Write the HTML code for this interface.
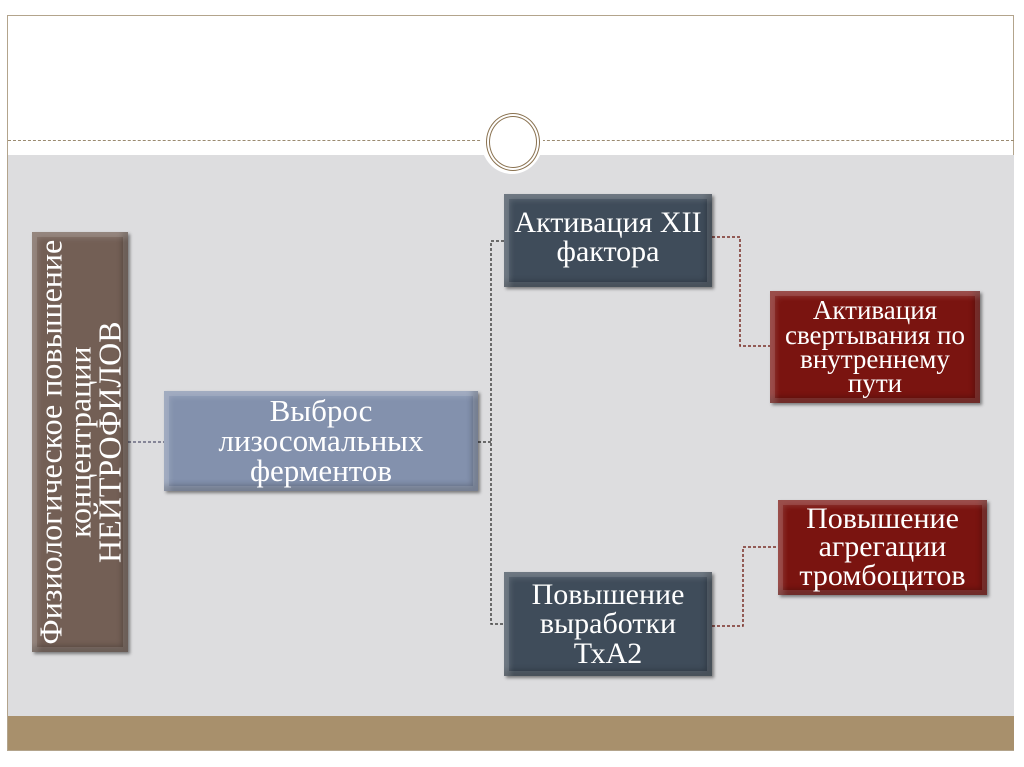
<!DOCTYPE html>
<html><head><meta charset="utf-8"><style>
body{margin:0;width:1024px;height:767px;background:#fff;position:relative;overflow:hidden;font-family:"Liberation Serif",serif}
.a{position:absolute}
.box{position:absolute;display:flex;align-items:center;justify-content:center;text-align:center;color:#fff;box-sizing:border-box;box-shadow:2px 2px 3px rgba(0,0,0,.45),inset 0 0 0 5px rgba(255,255,255,.12),inset 6px 6px 6px rgba(255,255,255,.15),inset -6px -6px 6px rgba(0,0,0,.25);line-height:0.97;white-space:nowrap}
</style></head><body>
<div class="a" style="left:7px;top:15px;width:1007px;height:736px;border:1px solid #b3a48c;box-sizing:border-box"></div>
<div class="a" style="left:8px;top:155px;width:1006px;height:561px;background:#dddddf"></div>
<div class="a" style="left:8px;top:716px;width:1006px;height:34px;background:#a8906c"></div>
<div class="a" style="left:8px;top:140px;width:1006px;border-top:1px dashed #9a8a70"></div>
<div class="a" style="left:481px;top:108px;width:62px;height:66px;border-radius:50%;background:#fff"></div>
<div class="a" style="left:486px;top:113px;width:46px;height:50px;border-radius:50%;border:4px double #8a7250;box-sizing:content-box"></div>
<svg class="a" style="left:0;top:0" width="1024" height="767">
<g fill="none" stroke-dasharray="3,2" stroke-width="1.5">
<path d="M128 442H164" stroke="#6a6a80"/>
<path d="M478 442H491M504 241H491V624H504" stroke="#444"/>
<path d="M712 237H740V346H770" stroke="#7a3028"/>
<path d="M712 626H743V547H778" stroke="#7a3028"/>
</g></svg>
<div class="box" style="left:32px;top:232px;width:96px;height:420px;background:#735f55">
<div style="transform:rotate(-90deg);white-space:nowrap;font-size:32px;line-height:0.92">Физиологическое повышение<br>концентрации<br>НЕЙТРОФИЛОВ</div></div>
<div class="box" style="left:164px;top:391px;width:314px;height:100px;background:#8391ad;font-size:31px">Выброс<br>лизосомальных<br>ферментов</div>
<div class="box" style="left:504px;top:194px;width:208px;height:93px;background:#3f4c5a;font-size:30px;align-items:flex-start;padding-top:14px">Активация XII<br>фактора</div>
<div class="box" style="left:504px;top:572px;width:208px;height:104px;background:#3f4c5a;font-size:30px">Повышение<br>выработки<br>ТхА2</div>
<div class="box" style="left:770px;top:291px;width:210px;height:112px;background:#7a1410;font-size:27px;line-height:0.9">Активация<br>свертывания по<br>внутреннему<br>пути</div>
<div class="box" style="left:778px;top:500px;width:209px;height:95px;background:#7a1410;font-size:30px;line-height:0.95">Повышение<br>агрегации<br>тромбоцитов</div>
</body></html>
